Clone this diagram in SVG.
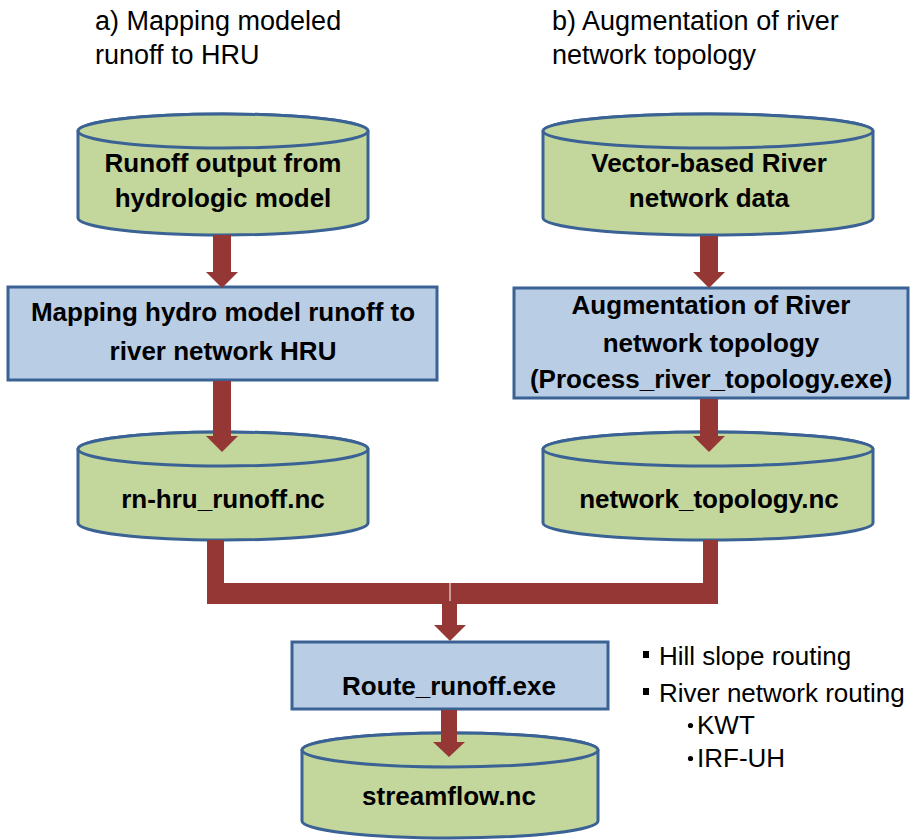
<svg xmlns="http://www.w3.org/2000/svg" width="914" height="840" viewBox="0 0 914 840">
  <style>
    .cyl { fill: #c3d69b; stroke: #3a6295; stroke-width: 3; }
    .box { fill: #b9cde5; stroke: #3a6295; stroke-width: 3; }
    .arrow { fill: #953735; stroke: none; }
    .bold { font-family: "Liberation Sans", Arial, sans-serif; font-weight: bold; font-size: 26px; fill: #000; text-anchor: middle; }
    .title { font-family: "Liberation Sans", Arial, sans-serif; font-size: 27px; fill: #000; }
    .note { font-family: "Liberation Sans", Arial, sans-serif; font-size: 26px; fill: #000; }
  </style>
  <rect width="914" height="840" fill="#ffffff"/>

  <!-- section headings -->
  <g id="heading-a">
    <text class="title" x="95" y="30">a) Mapping modeled</text>
    <text class="title" x="95" y="64">runoff to HRU</text>
  </g>
  <g id="heading-b">
    <text class="title" x="552" y="30">b) Augmentation of river</text>
    <text class="title" x="552" y="64">network topology</text>
  </g>

  <!-- left branch -->
  <g id="runoff-output">
    <path class="cyl" d="M78,131 V218 A145,17 0 0 0 368,218 V131 A145,17 0 0 0 78,131 Z"/>
    <ellipse class="cyl" cx="223" cy="131" rx="145" ry="17"/>
    <text class="bold" x="223" y="172">Runoff output from</text>
    <text class="bold" x="223" y="207">hydrologic model</text>
  </g>
  <g id="mapping">
    <rect class="box" x="8" y="287" width="429" height="93"/>
    <text class="bold" x="223" y="321">Mapping hydro model runoff to</text>
    <text class="bold" x="223" y="360">river network HRU</text>
  </g>
  <g id="rn-hru-runoff">
    <path class="cyl" d="M78,449 V523 A145,17 0 0 0 368,523 V449 A145,17 0 0 0 78,449 Z"/>
    <ellipse class="cyl" cx="223" cy="449" rx="145" ry="17"/>
    <text class="bold" x="223" y="508">rn-hru_runoff.nc</text>
  </g>

  <!-- right branch -->
  <g id="river-network-data">
    <path class="cyl" d="M543,131 V218 A165,17 0 0 0 873,218 V131 A165,17 0 0 0 543,131 Z"/>
    <ellipse class="cyl" cx="708" cy="131" rx="165" ry="17"/>
    <text class="bold" x="709" y="172">Vector-based River</text>
    <text class="bold" x="709" y="207">network data</text>
  </g>
  <g id="augmentation">
    <rect class="box" x="514" y="288" width="394" height="110"/>
    <text class="bold" x="711" y="314">Augmentation of River</text>
    <text class="bold" x="711" y="352">network topology</text>
    <text class="bold" x="711" y="388">(Process_river_topology.exe)</text>
  </g>
  <g id="network-topology">
    <path class="cyl" d="M543,449 V523 A165,17 0 0 0 873,523 V449 A165,17 0 0 0 543,449 Z"/>
    <ellipse class="cyl" cx="708" cy="449" rx="165" ry="17"/>
    <text class="bold" x="709" y="508">network_topology.nc</text>
  </g>

  <!-- routing -->
  <g id="route-runoff">
    <rect class="box" x="292" y="642" width="316" height="67"/>
    <text class="bold" x="449" y="695">Route_runoff.exe</text>
  </g>
  <g id="streamflow">
    <path class="cyl" d="M302,750 V821 A148,17 0 0 0 598,821 V750 A148,17 0 0 0 302,750 Z"/>
    <ellipse class="cyl" cx="450" cy="750" rx="148" ry="17"/>
    <text class="bold" x="449" y="805">streamflow.nc</text>
  </g>

  <!-- routing options -->
  <g id="routing-options">
    <rect x="643" y="651" width="6" height="7" fill="#000"/>
    <text class="note" x="659" y="665">Hill slope routing</text>
    <rect x="643" y="688" width="6" height="7" fill="#000"/>
    <text class="note" x="659" y="702">River network routing</text>
    <circle cx="690.5" cy="725.5" r="2.6" fill="#000"/>
    <text class="note" x="697" y="734">KWT</text>
    <circle cx="690.5" cy="758.5" r="2.6" fill="#000"/>
    <text class="note" x="697" y="767">IRF-UH</text>
  </g>

  <!-- block arrows -->
  <g id="connectors">
    <polygon class="arrow" points="213,235 231,235 231,272 238,272 222,288 206,272 213,272"/>
    <polygon class="arrow" points="213,381 231,381 231,436 238,436 222,452 206,436 213,436"/>
    <polygon class="arrow" points="700,236 718,236 718,272 725,272 709,288 693,272 700,272"/>
    <polygon class="arrow" points="700,399 718,399 718,436 725,436 709,452 693,436 700,436"/>
    <!-- merge of both branches -->
    <path class="arrow" d="M207,540 H224 V583 H450 V604 H207 Z"/>
    <path class="arrow" d="M718,540 H703 V583 H450 V604 H718 Z"/>
    <polygon class="arrow" points="442,603 457,603 457,625 466,625 450,641 434,625 442,625"/>
    <line x1="450" y1="583" x2="450" y2="601" stroke="#ffffff" stroke-width="1"/>
    <polygon class="arrow" points="441,710 457,710 457,742 465,742 449,757 433,742 441,742"/>
  </g>
</svg>
